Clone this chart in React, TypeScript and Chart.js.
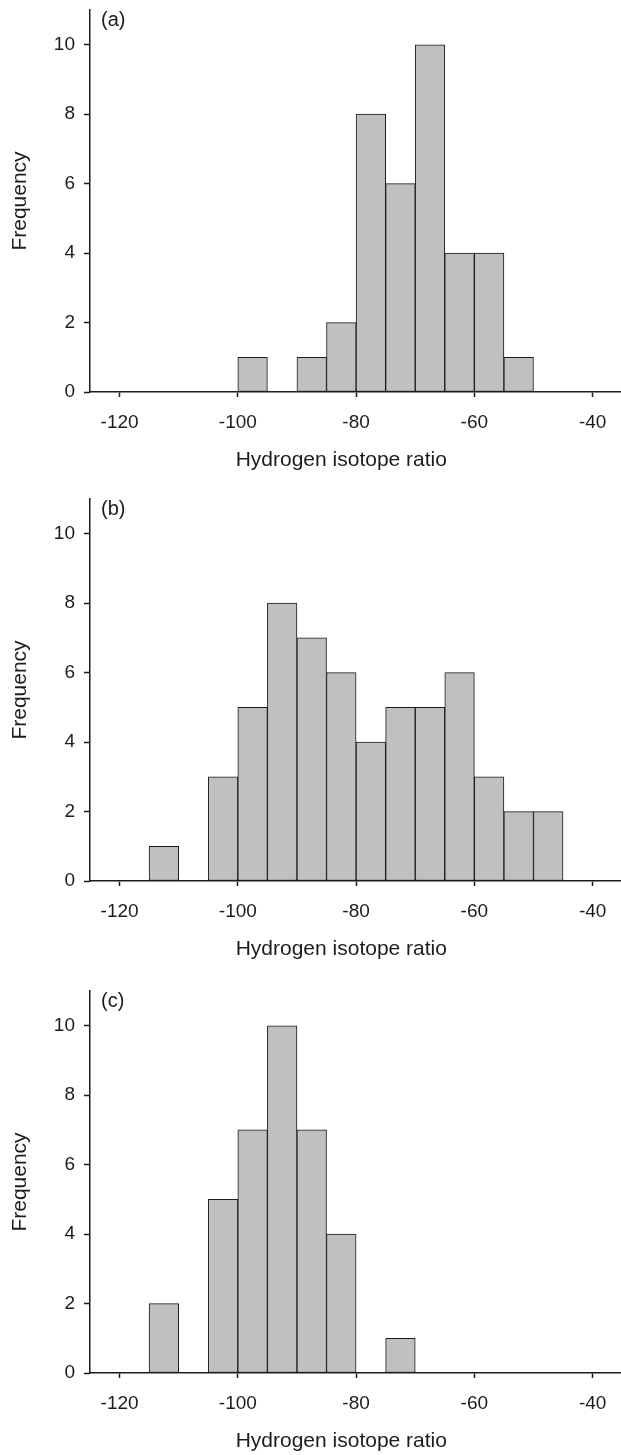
import React, { useEffect, useRef } from "react";
import { Chart, registerables } from "chart.js";

Chart.register(...registerables);

// Histogram bin centres (bin width 5, from -125 to -35)
const binCenters = [
  -122.5, -117.5, -112.5, -107.5, -102.5, -97.5, -92.5, -87.5, -82.5,
  -77.5, -72.5, -67.5, -62.5, -57.5, -52.5, -47.5, -42.5, -37.5,
];

const countsA = [0, 0, 0, 0, 0, 1, 0, 1, 2, 8, 6, 10, 4, 4, 1, 0, 0, 0];
const countsB = [0, 0, 1, 0, 3, 5, 8, 7, 6, 4, 5, 5, 6, 3, 2, 2, 0, 0];
const countsC = [0, 0, 2, 0, 5, 7, 10, 7, 4, 0, 1, 0, 0, 0, 0, 0, 0, 0];

const panelLabels = ["(a)", "(b)", "(c)"];
const xTicks = [-120, -100, -80, -60, -40];
const yTicks = [0, 2, 4, 6, 8, 10];
const xTitle = "Hydrogen isotope ratio";
const yTitle = "Frequency";
// the x-axis title is centred over the -125 .. -40 span, as in the source figure
const xTitleSpan = [-125, -40];

const FONT = '"Liberation Sans", Arial, Helvetica, sans-serif';
const INK = "#1c1c1c";

function zeroPadding(s: any) {
  s.paddingLeft = 0;
  s.paddingRight = 0;
  s.paddingTop = 0;
  s.paddingBottom = 0;
}

function Panel({ label, counts }: { label: string; counts: number[] }) {
  const ref = useRef<HTMLCanvasElement | null>(null);

  useEffect(() => {
    if (!ref.current) return;
    const labelPlugin = {
      id: "panelLabel",
      afterDraw(chart: any) {
        const { ctx, chartArea } = chart;
        const xs = chart.scales.x;
        ctx.save();
        ctx.fillStyle = INK;
        // panel letter
        ctx.font = `20px ${FONT}`;
        ctx.textAlign = "left";
        ctx.textBaseline = "middle";
        ctx.fillText(label, chartArea.left + 11, chartArea.top + 10);
        // x-axis title
        ctx.font = `21px ${FONT}`;
        ctx.textAlign = "center";
        const cx = xs.getPixelForValue((xTitleSpan[0] + xTitleSpan[1]) / 2);
        ctx.fillText(xTitle, cx, xs.bottom - 12.6);
        ctx.restore();
      },
    };

    const chart = new Chart(ref.current, {
      type: "bar",
      data: {
        datasets: [
          {
            data: binCenters.map((x, i) => ({
              x,
              y: counts[i] > 0 ? counts[i] : null,
            })) as any,
            backgroundColor: "#c0c0c0",
            borderColor: "#1a1a1a",
            borderWidth: 1,
            borderSkipped: false,
            barPercentage: 1,
            categoryPercentage: 1,
          },
        ],
      },
      plugins: [labelPlugin],
      options: {
        animation: false,
        responsive: false,
        events: [],
        layout: { padding: { top: 10, left: 0, right: 0, bottom: 1 } },
        plugins: {
          legend: { display: false },
          tooltip: { enabled: false },
        },
        scales: {
          x: {
            type: "linear",
            min: -125,
            max: -35.2,
            offset: false,
            afterBuildTicks: (s: any) => {
              s.ticks = xTicks.map((v) => ({ value: v }));
            },
            afterFit: (s: any) => {
              s.height = 81;
              zeroPadding(s);
            },
            grid: {
              display: true,
              drawOnChartArea: false,
              drawTicks: true,
              tickLength: 5,
              tickWidth: 1.5,
              tickColor: INK,
              offset: false,
            },
            border: { display: true, color: INK, width: 1.5 },
            ticks: {
              font: { family: FONT, size: 19 },
              color: INK,
              padding: 14,
              maxRotation: 0,
              autoSkip: false,
            },
            title: { display: false },
          },
          y: {
            type: "linear",
            min: 0,
            max: 11,
            afterBuildTicks: (s: any) => {
              s.ticks = yTicks.map((v) => ({ value: v }));
            },
            afterFit: (s: any) => {
              s.width = 90;
              zeroPadding(s);
            },
            grid: {
              display: true,
              drawOnChartArea: false,
              drawTicks: true,
              tickLength: 6,
              tickWidth: 1.5,
              tickColor: INK,
            },
            border: { display: true, color: INK, width: 1.5 },
            ticks: {
              font: { family: FONT, size: 19 },
              color: INK,
              padding: 9,
              autoSkip: false,
            },
            title: {
              display: true,
              text: yTitle,
              font: { family: FONT, size: 21 },
              color: INK,
              padding: { top: 8, bottom: 0 },
            },
          },
        },
      } as any,
    });
    return () => chart.destroy();
  }, [label, counts]);

  return (
    <canvas
      ref={ref}
      width={621}
      height={474}
      style={{ display: "block", width: 621, height: 474 }}
    />
  );
}

const panelTops = [0, 489, 981];
const panelCounts = [countsA, countsB, countsC];

export default function App() {
  return (
    <div
      style={{
        position: "absolute",
        left: 0,
        top: 0,
        width: 621,
        height: 1455,
        background: "#ffffff",
        overflow: "hidden",
      }}
    >
      {panelCounts.map((c, i) => (
        <div
          key={i}
          style={{ position: "absolute", left: 0, top: panelTops[i], width: 621, height: 474 }}
        >
          <Panel label={panelLabels[i]} counts={c} />
        </div>
      ))}
    </div>
  );
}
